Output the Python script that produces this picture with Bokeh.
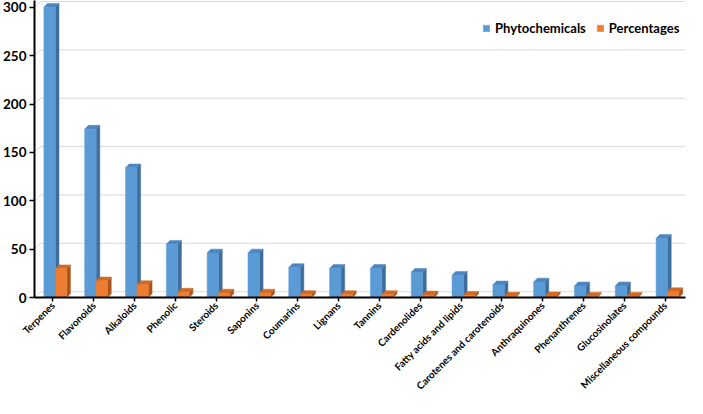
import math
from bokeh.plotting import figure
from bokeh.models import Range1d, FixedTicker, Legend, LegendItem
from bokeh.embed import file_html
from bokeh.resources import INLINE

categories = ["Terpenes", "Flavonoids", "Alkaloids", "Phenolic", "Steroids", "Saponins",
              "Coumarins", "Lignans", "Tannins", "Cardenolides", "Fatty acids and lipids",
              "Carotenes and carotenoids", "Anthraquinones", "Phenanthrenes",
              "Glucosinolates", "Miscellaneous compounds"]
phytochemicals = [300, 174, 134, 55, 46, 46, 31, 30, 30, 26, 23, 13, 16, 12, 12, 61]
percentages = [29.7, 17.2, 13.3, 5.5, 4.6, 4.6, 3.1, 3.0, 3.0, 2.6, 2.3, 1.3, 1.6, 1.2, 1.2, 6.0]
y_ticks = [0, 50, 100, 150, 200, 250, 300]

FONT = "Lato"
# 3D look parameters (in data units)
DX = 0.09      # depth offset along x
DY = 4.0       # depth offset along y
BW = 0.28      # bar front width
GDX = 0.15     # back wall offset for gridlines
GDY = 6.0

x0, x1 = -0.45, 15.5
y0, y1 = 0, 307

p = figure(width=687, height=398, output_backend="svg", toolbar_location=None,
           x_range=Range1d(x0, x1), y_range=Range1d(y0, y1),
           min_border_top=0, min_border_right=2, min_border_left=0, min_border_bottom=0)
p.outline_line_color = None
p.xgrid.visible = False
p.ygrid.visible = False
p.background_fill_color = "white"

# gridlines on the back wall
gxs, gys = [], []
for v in y_ticks:
    gxs.append([x0, x0 + GDX, x1])
    gys.append([v, v + GDY, v + GDY])
p.multi_line(gxs, gys, line_color="#d9d9d9", line_width=1)


def bars(values, offset, front, side, top):
    xc = [i + offset for i in range(len(values))]
    left = [x - BW / 2 for x in xc]
    right = [x + BW / 2 for x in xc]
    side_xs = [[r, r + DX, r + DX, r] for r in right]
    side_ys = [[0, DY, v + DY, v] for v in values]
    top_xs = [[l, r, r + DX, l + DX] for l, r in zip(left, right)]
    top_ys = [[v, v, v + DY, v + DY] for v in values]
    p.patches(side_xs, side_ys, fill_color=side, line_color=side, line_width=0.5)
    p.patches(top_xs, top_ys, fill_color=top, line_color=top, line_width=0.5)
    r = p.vbar(x=xc, width=BW, top=values, bottom=0, fill_color=front,
               line_color=front, line_width=0.5)
    return r


r_blue = bars(phytochemicals, -0.08, "#5B9BD5", "#3F6E9C", "#4C85C0")
r_orange = bars(percentages, -0.08 + BW, "#ED7D31", "#A9551C", "#D06A25")

# axes
ya = p.yaxis[0]
ya.ticker = FixedTicker(ticks=y_ticks)
ya.axis_line_color = "black"
ya.axis_line_width = 2
ya.major_tick_line_color = "black"
ya.major_tick_line_width = 1.5
ya.major_tick_out = 5
ya.major_tick_in = 0
ya.minor_tick_line_color = None
ya.major_label_text_font = FONT
ya.major_label_text_font_style = "bold"
ya.major_label_text_font_size = "13.5px"
ya.major_label_text_color = "black"
ya.major_label_standoff = 3

xa = p.xaxis[0]
xa.ticker = FixedTicker(ticks=list(range(len(categories))))
xa.major_label_overrides = {i: c for i, c in enumerate(categories)}
xa.major_label_orientation = math.pi / 4
xa.axis_line_color = "black"
xa.axis_line_width = 2
xa.major_tick_line_color = "black"
xa.major_tick_line_width = 1.5
xa.major_tick_out = 4
xa.major_tick_in = 0
xa.minor_tick_line_color = None
xa.major_label_text_font = FONT
xa.major_label_text_font_style = "bold"
xa.major_label_text_font_size = "10px"
xa.major_label_text_color = "black"
xa.major_label_standoff = 2

legend = Legend(items=[LegendItem(label="Phytochemicals", renderers=[r_blue]),
                       LegendItem(label="Percentages", renderers=[r_orange])],
                orientation="horizontal", location=(446, 259),
                glyph_width=8, glyph_height=8, label_standoff=5, spacing=10,
                padding=2, margin=0,
                label_text_font=FONT, label_text_font_style="bold",
                label_text_font_size="13px", label_text_color="black",
                border_line_alpha=0, background_fill_alpha=0)
p.add_layout(legend)

open("out.html", "w").write(file_html(p, INLINE))
